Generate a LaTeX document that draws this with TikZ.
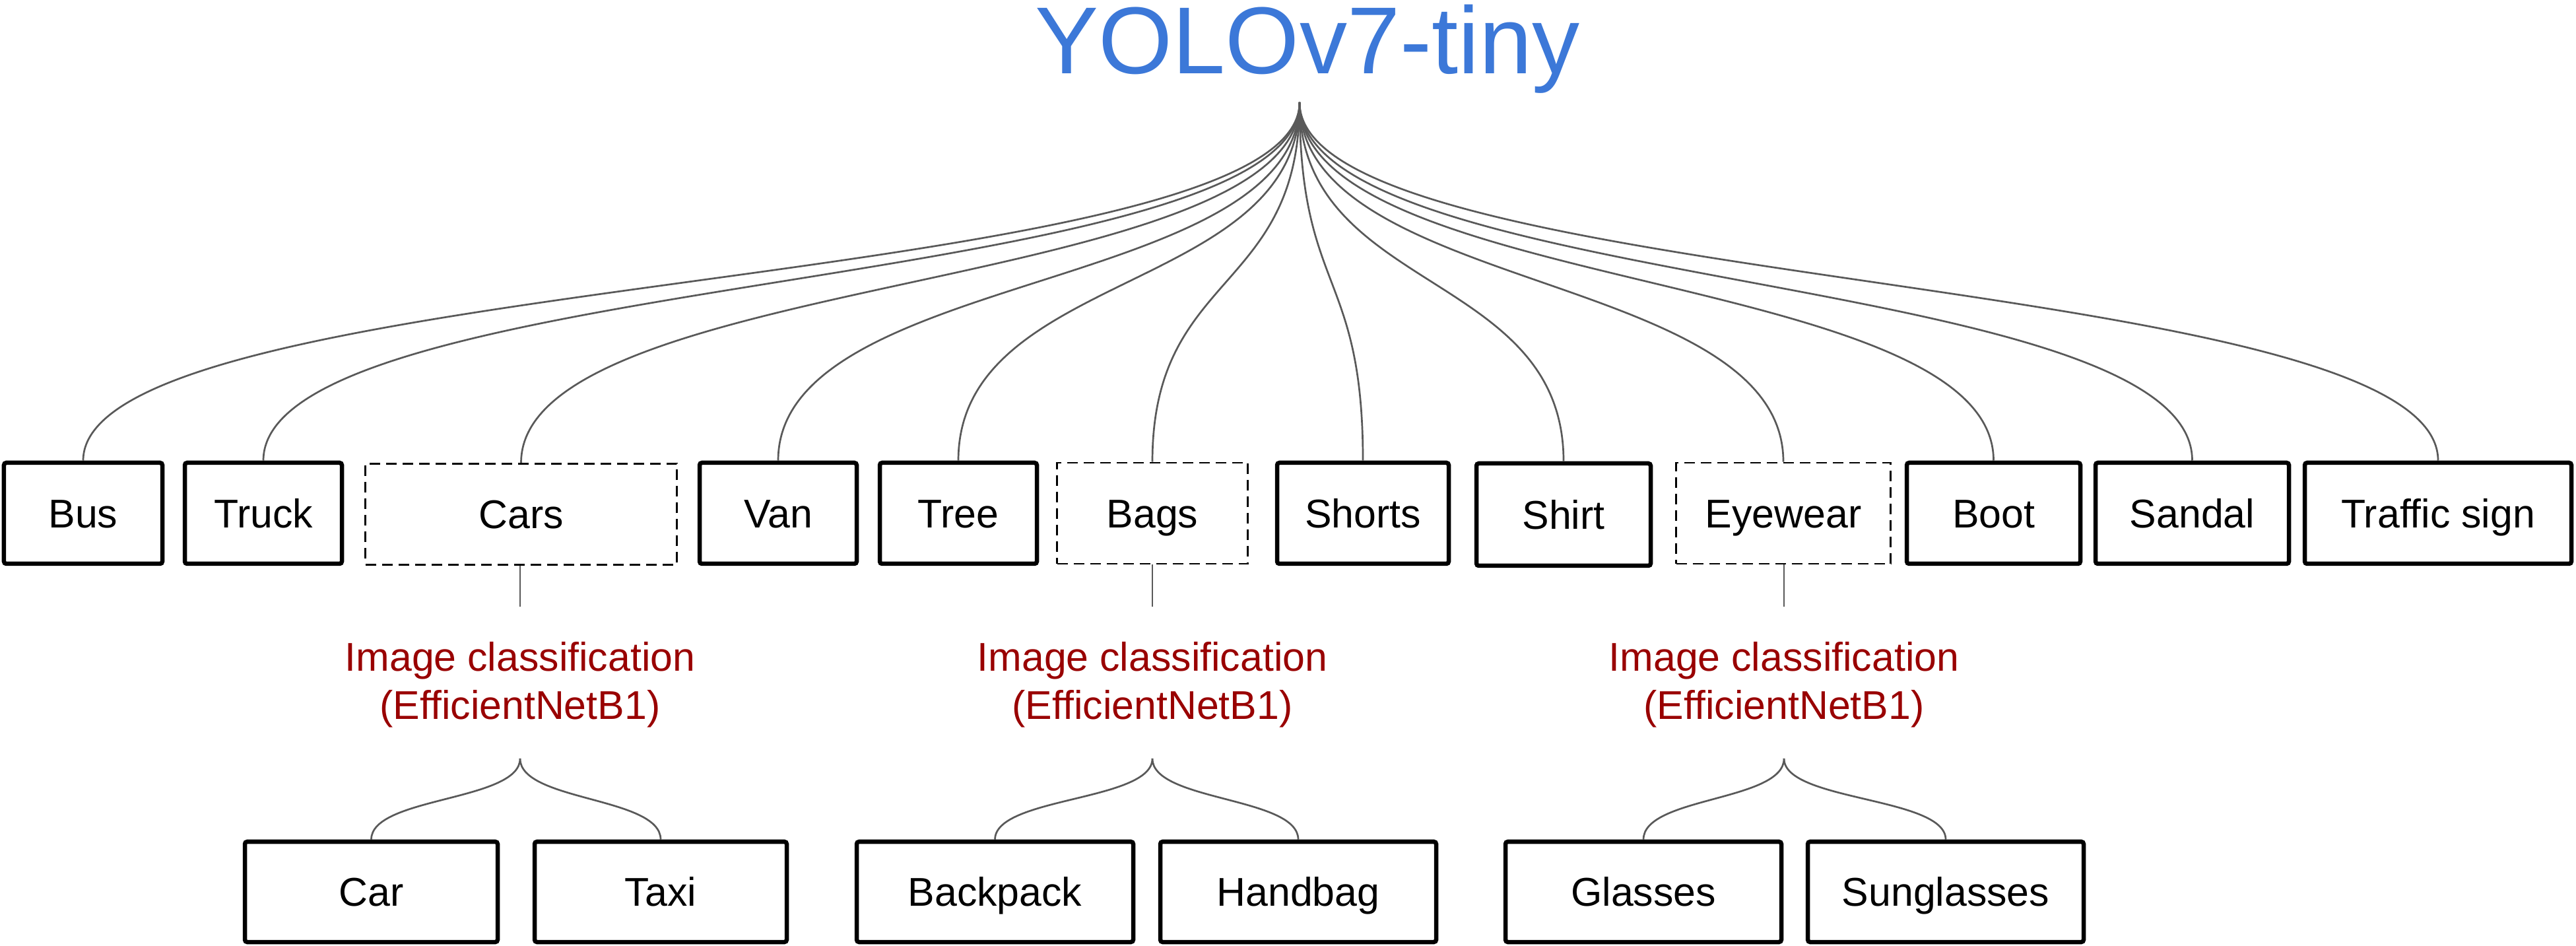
\documentclass[tikz,border=0pt]{standalone}
\usepackage{fontspec}
\setmainfont{Liberation Sans}
\definecolor{ttl}{HTML}{3C78D8}
\definecolor{cls}{HTML}{990000}
\definecolor{con}{HTML}{595959}
\tikzset{
  lbl/.style={font=\fontsize{17.3pt}{21pt}\selectfont, inner sep=0pt},
  boxtext/.style={lbl, text height=12.4pt, text depth=0pt},
  solidbox/.style={boxtext, draw=black, line width=0.065cm, rounded corners=1pt, minimum height=1.53cm},
  dashbox/.style={boxtext, draw=black, line width=0.027cm, dash pattern=on 0.16cm off 0.09cm, minimum height=1.53cm},
  subbox/.style={boxtext, draw=black, line width=0.065cm, rounded corners=1pt, minimum height=1.52cm},
  clstext/.style={lbl, text=cls, align=center},
  conn/.style={draw=con, line width=0.027cm},
}
\begin{document}
\begin{tikzpicture}
\useasboundingbox (0,0) rectangle (39.03,-14.33);
% title
\node[font=\fontsize{41pt}{48pt}\selectfont, text=ttl, inner sep=0pt, anchor=base] (title) at (19.81,-1.12) {YOLOv7-tiny};
\coordinate (apex) at (19.69,-1.55);
% top row
\node[solidbox, minimum width=2.40cm] (bus) at (1.26,-7.775) {Bus};
\node[solidbox, minimum width=2.38cm] (truck) at (3.99,-7.775) {Truck};
\node[dashbox, minimum width=4.72cm] (cars) at (7.895,-7.79) {Cars};
\node[solidbox, minimum width=2.38cm] (van) at (11.79,-7.775) {Van};
\node[solidbox, minimum width=2.38cm] (tree) at (14.52,-7.775) {Tree};
\node[dashbox, minimum width=2.89cm] (bags) at (17.46,-7.775) {Bags};
\node[solidbox, minimum width=2.60cm] (shorts) at (20.65,-7.775) {Shorts};
\node[solidbox, minimum width=2.64cm, minimum height=1.55cm] (shirt) at (23.69,-7.795) {Shirt};
\node[dashbox, minimum width=3.25cm] (eyewear) at (27.02,-7.775) {Eyewear};
\node[solidbox, minimum width=2.63cm] (boot) at (30.205,-7.775) {Boot};
\node[solidbox, minimum width=2.93cm] (sandal) at (33.215,-7.775) {Sandal};
\node[solidbox, minimum width=4.04cm] (traffic) at (36.94,-7.775) {Traffic sign};
% fan connectors
\foreach \n in {bus,truck,cars,van,tree,bags,shorts,shirt,eyewear,boot,sandal,traffic}{
  \draw[conn] (apex) .. controls +(0,-2.9) and +(0,2.9) .. (\n.north);
}
% classifier labels (base = baseline of last line)
\node[clstext, anchor=base] (clsA) at (7.88,-10.90) {Image classification\\(EfficientNetB1)};
\node[clstext, anchor=base] (clsB) at (17.46,-10.90) {Image classification\\(EfficientNetB1)};
\node[clstext, anchor=base] (clsC) at (27.03,-10.90) {Image classification\\(EfficientNetB1)};
\coordinate (stemA) at (7.88,-9.19);
\coordinate (stemB) at (17.46,-9.19);
\coordinate (stemC) at (27.03,-9.19);
\coordinate (forkA) at (7.88,-11.49);
\coordinate (forkB) at (17.46,-11.49);
\coordinate (forkC) at (27.03,-11.49);
\draw[conn] (cars.south -| stemA) -- (stemA);
\draw[conn] (bags.south -| stemB) -- (stemB);
\draw[conn] (eyewear.south -| stemC) -- (stemC);
% bottom row
\node[subbox, minimum width=3.83cm] (car) at (5.625,-13.51) {Car};
\node[subbox, minimum width=3.82cm] (taxi) at (10.01,-13.51) {Taxi};
\node[subbox, minimum width=4.19cm] (backpack) at (15.075,-13.51) {Backpack};
\node[subbox, minimum width=4.18cm] (handbag) at (19.67,-13.51) {Handbag};
\node[subbox, minimum width=4.18cm] (glasses) at (24.90,-13.51) {Glasses};
\node[subbox, minimum width=4.18cm] (sunglasses) at (29.48,-13.51) {Sunglasses};
\draw[conn] (forkA) .. controls +(0,-0.65) and +(0,0.65) .. (car.north);
\draw[conn] (forkA) .. controls +(0,-0.65) and +(0,0.65) .. (taxi.north);
\draw[conn] (forkB) .. controls +(0,-0.65) and +(0,0.65) .. (backpack.north);
\draw[conn] (forkB) .. controls +(0,-0.65) and +(0,0.65) .. (handbag.north);
\draw[conn] (forkC) .. controls +(0,-0.65) and +(0,0.65) .. (glasses.north);
\draw[conn] (forkC) .. controls +(0,-0.65) and +(0,0.65) .. (sunglasses.north);
\end{tikzpicture}
\end{document}
